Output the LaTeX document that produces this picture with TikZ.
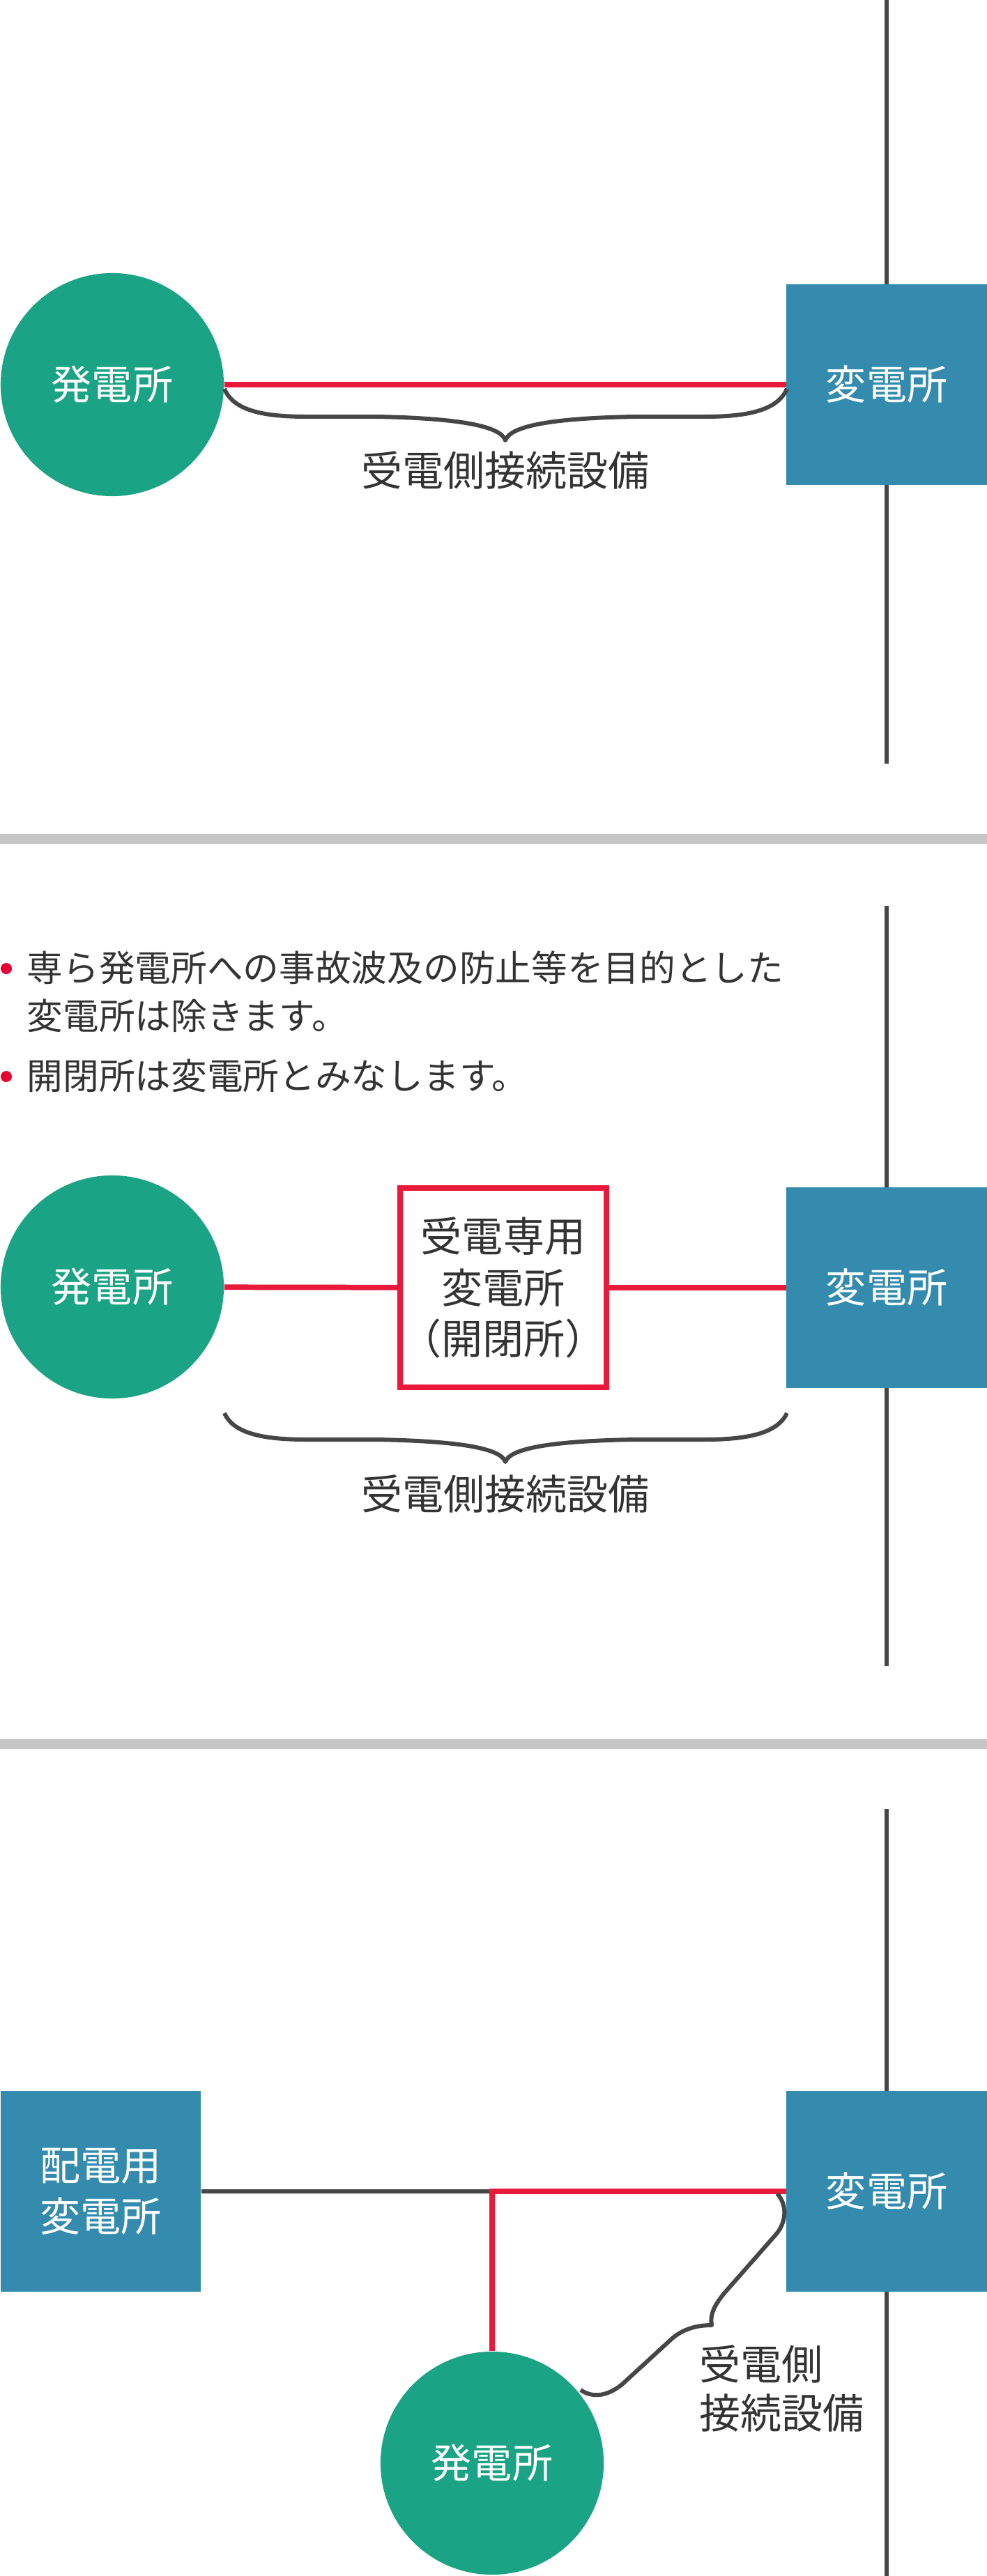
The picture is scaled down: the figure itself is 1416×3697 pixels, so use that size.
\documentclass[tikz,border=0pt]{standalone}
\usepackage{fontspec}
\setmainfont{Noto Sans CJK JP}
\usepackage{tikz}
\usetikzlibrary{
    calc,
    positioning
}
\definecolor{gengreen}{HTML}{1BA385}
\definecolor{subblue}{HTML}{348BAE}
\definecolor{gridred}{HTML}{E8193A}
\definecolor{dotred}{HTML}{E60033}
\definecolor{griddark}{HTML}{464646}
\definecolor{textdark}{HTML}{333333}
\definecolor{sepgray}{HTML}{C6C6C6}
\tikzstyle{feeder}=[line width=2.2pt,draw=gridred]
\tikzstyle{busline}=[line width=1.9pt,draw=griddark]
\tikzstyle{bracket}=[line width=1.7pt,draw=griddark,line join=round]

\begin{document}
\begin{tikzpicture}[
    x=0.01cm,y=-0.01cm,
    plant/.style={
        circle,
        fill=gengreen,
        text=white,
        minimum size=3.2cm,
        inner sep=0pt,
        font=\fontsize{16.5}{20}\selectfont
    },
    substation/.style={
        rectangle,
        fill=subblue,
        text=white,
        minimum width=2.87cm,
        minimum height=2.87cm,
        inner sep=0pt,
        align=center,
        font=\fontsize{16.5}{20.8}\selectfont
    },
    relay/.style={
        rectangle,
        draw=gridred,
        line width=2.3pt,
        fill=white,
        text=textdark,
        minimum size=2.85cm,
        inner sep=0pt,
        align=center,
        font=\fontsize{16.8}{21}\selectfont
    },
    bracetext/.style={
        text=textdark,
        inner sep=0pt,
        align=left,
        font=\fontsize{16.8}{19.8}\selectfont
    },
    note/.style={
        text=textdark,
        inner sep=0pt,
        anchor=west,
        align=left,
        font=\fontsize{14.7}{19.6}\selectfont
    },
    bullet/.style={circle,fill=dotred,minimum size=0.16cm,inner sep=0pt}
]
\fill[white] (0,0) rectangle (1416,3697);
\useasboundingbox (0,0) rectangle (1416,3697);

% --- panel 1
\node[plant] (gen1) at (161,552) {発電所};
\node[substation] (sub1) at (1272,552) {変電所};
\coordinate (bus1top) at (1272,0);
\coordinate (bus1end) at (1272,1096);
\draw[busline] (bus1top) -- (sub1) (sub1) -- (bus1end);
\draw[feeder] (gen1) -- (sub1);
\draw[bracket] (322,558) .. controls (335,590) and (380,598) .. (440,598)
    -- (540,598) .. controls (650,600) and (718,610) .. (725,632)
    .. controls (732,610) and (800,600) .. (910,598)
    -- (1010,598) .. controls (1070,598) and (1115,590) .. (1129,558);
\node[bracetext] (span1) at (725,675) {受電側接続設備};

\fill[sepgray] (0,1197) rectangle (1416,1211);

% --- panel 2
\node[bullet] (dot1) at (9,1390) {};
\node[note] (note1) at (38,1423) {専ら発電所への事故波及の防止等を目的とした\\変電所は除きます。};
\node[bullet] (dot2) at (9,1545) {};
\node[note] (note2) at (38,1544) {開閉所は変電所とみなします。};

\node[plant] (gen2) at (161,1847) {発電所};
\node[relay] (relay2) at (722,1848) {受電専用\\変電所\\（開閉所）};
\node[substation] (sub2) at (1272,1848) {変電所};
\coordinate (bus2top) at (1272,1300);
\coordinate (bus2end) at (1272,2391);
\draw[busline] (bus2top) -- (sub2) (sub2) -- (bus2end);
\draw[feeder] (gen2) -- (relay2);
\draw[feeder] (relay2) -- (sub2);
\draw[bracket] (322,2028) .. controls (335,2058) and (380,2066) .. (440,2066)
    -- (540,2066) .. controls (650,2068) and (718,2077) .. (725,2098)
    .. controls (732,2077) and (800,2068) .. (910,2066)
    -- (1010,2066) .. controls (1070,2066) and (1115,2058) .. (1129,2028);
\node[bracetext] (span2) at (725,2144) {受電側接続設備};

\fill[sepgray] (0,2496) rectangle (1416,2510);

% --- panel 3
\node[substation] (dist3) at (144.5,3145) {配電用\\変電所};
\node[substation] (sub3) at (1272,3145) {変電所};
\node[plant] (gen3) at (706,3535) {発電所};
\coordinate (bus3top) at (1272,2596);
\coordinate (bus3end) at (1272,3697);
\coordinate (tee3) at (706,3145);
\draw[busline] (bus3top) -- (sub3) (sub3) -- (bus3end);
\draw[busline] (dist3) -- (tee3);
\draw[feeder] (gen3) |- (sub3);
\draw[bracket] (1115,3148) .. controls (1130,3165) and (1128,3190) .. (1113,3207)
    -- (1040,3290) .. controls (1025,3308) and (1018,3322) .. (1021,3337)
    .. controls (995,3337) and (975,3345) .. (960,3360)
    -- (900,3415) .. controls (880,3435) and (855,3445) .. (833,3430);
\node[bracetext,anchor=west] (span3) at (1003,3428) {受電側\\接続設備};
\end{tikzpicture}
\end{document}
